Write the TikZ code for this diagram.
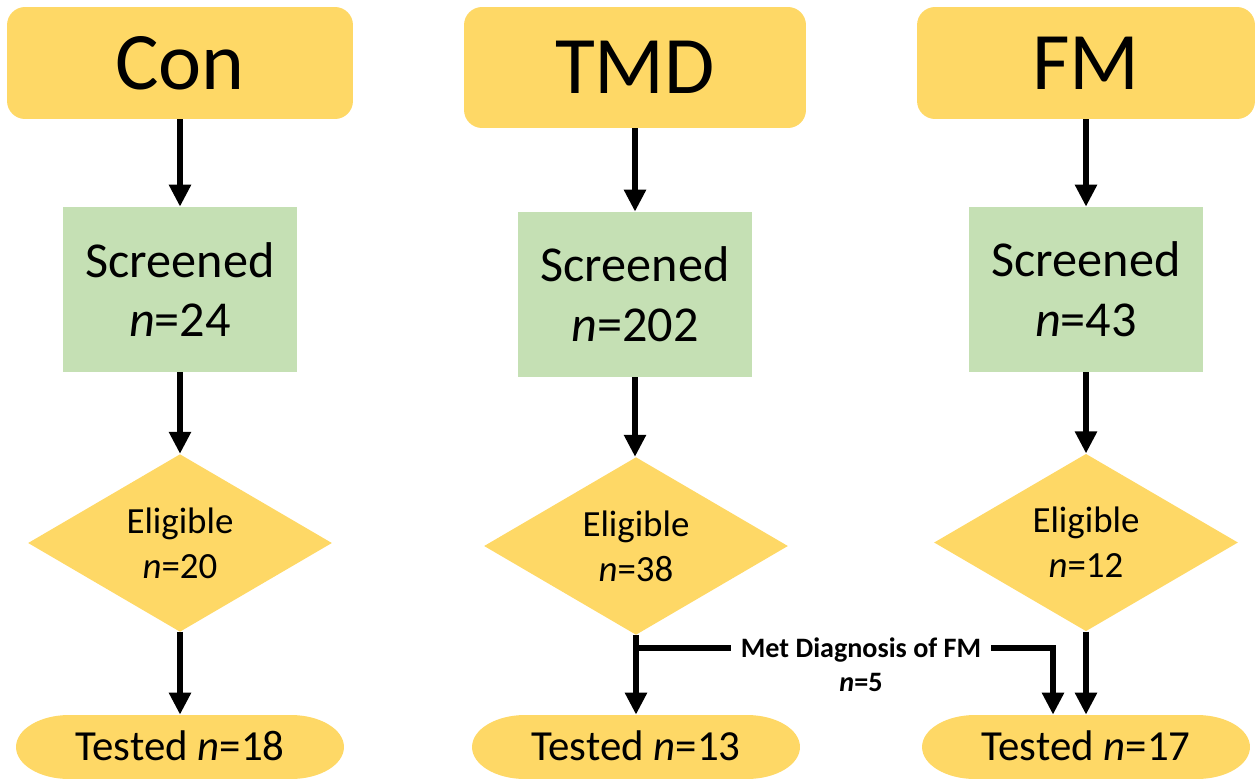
\documentclass[tikz,border=0pt]{standalone}
\usepackage{fontspec}
\setmainfont{Carlito}
\usetikzlibrary{shapes.geometric,arrows.meta}
\definecolor{ylw}{HTML}{FED866}
\definecolor{grn}{HTML}{C5E0B4}
\begin{document}
\begin{tikzpicture}[x=0.02cm,y=-0.02cm,
 topbox/.style={fill=ylw, rounded corners=0.36cm, inner sep=0, font=\fontsize{46.5}{50}\selectfont},
 scrbox/.style={fill=grn, inner sep=0, align=center, minimum width=4.7cm, minimum height=3.3cm, font=\fontsize{28.6}{34}\selectfont},
 elig/.style={diamond, fill=ylw, inner sep=0, align=center, minimum width=6.08cm, minimum height=3.36cm, font=\fontsize{21}{25.5}\selectfont},
 term/.style={inner sep=0, minimum width=6.56cm, minimum height=1.28cm, text height=15.7pt, text depth=0pt, font=\fontsize{24.4}{28}\selectfont,
   path picture={\fill[ylw] ([xshift=1.06cm]path picture bounding box.north west) -- ([xshift=-1.06cm]path picture bounding box.north east) arc[start angle=90,end angle=-90,x radius=1.06cm,y radius=0.64cm] -- ([xshift=1.06cm]path picture bounding box.south west) arc[start angle=270,end angle=90,x radius=1.06cm,y radius=0.64cm] -- cycle;}},
 arr/.style={line width=0.11cm, -{Triangle[width=0.42cm,length=0.44cm]}},
 ln/.style={line width=0.11cm},
 small/.style={font=\bfseries\fontsize{16}{19}\selectfont}
]
\useasboundingbox (0,0) rectangle (1256,778);

\node[topbox, minimum width=6.92cm, minimum height=2.24cm] (con) at (180,63) {Con};
\node[topbox, minimum width=6.84cm, minimum height=2.42cm] (tmd) at (635,67.5) {TMD};
\node[topbox, minimum width=6.76cm, minimum height=2.24cm] (fm) at (1086,63) {FM};

\node[scrbox] (s1) at (180,289.5) {Screened\\\textit{n}=24};
\node[scrbox] (s2) at (635,294.5) {Screened\\\textit{n}=202};
\node[scrbox] (s3) at (1086,289.5) {Screened\\\textit{n}=43};

\node[elig] (e1) at (180,543) {Eligible\\\textit{n}=20};
\node[elig] (e2) at (636,546) {Eligible\\\textit{n}=38};
\node[elig] (e3) at (1086,542.5) {Eligible\\\textit{n}=12};

\node[term] (t1) at (180,747) {Tested \textit{n}=18};
\node[term] (t2) at (636,747) {Tested \textit{n}=13};
\node[term] (t3) at (1086,747) {Tested \textit{n}=17};

\draw[arr] (con) -- (s1);
\draw[arr] (tmd) -- (s2);
\draw[arr] (fm) -- (s3);
\draw[arr] (s1) -- (e1);
\draw[arr] (s2.south) -- (s2.south |- e2.north);
\draw[arr] (s3) -- (e3);
\draw[arr] (e1) -- (t1);
\draw[arr] (e2) -- (t2);
\draw[arr] (e3) -- (t3);

\node[small, inner xsep=5.7pt, inner ysep=0, text height=10.3pt, text depth=0pt] (met) at (861,648) {Met Diagnosis of FM};
\node[small, anchor=base, inner sep=0] (n5) at (861,691) {\textit{n}=5};
\coordinate (j) at (e2.south |- met.west);
\draw[ln] (j) -- (met.west);
\draw[arr] (met.east) -| ([xshift=-0.66cm]t3.north);
\end{tikzpicture}
\end{document}
